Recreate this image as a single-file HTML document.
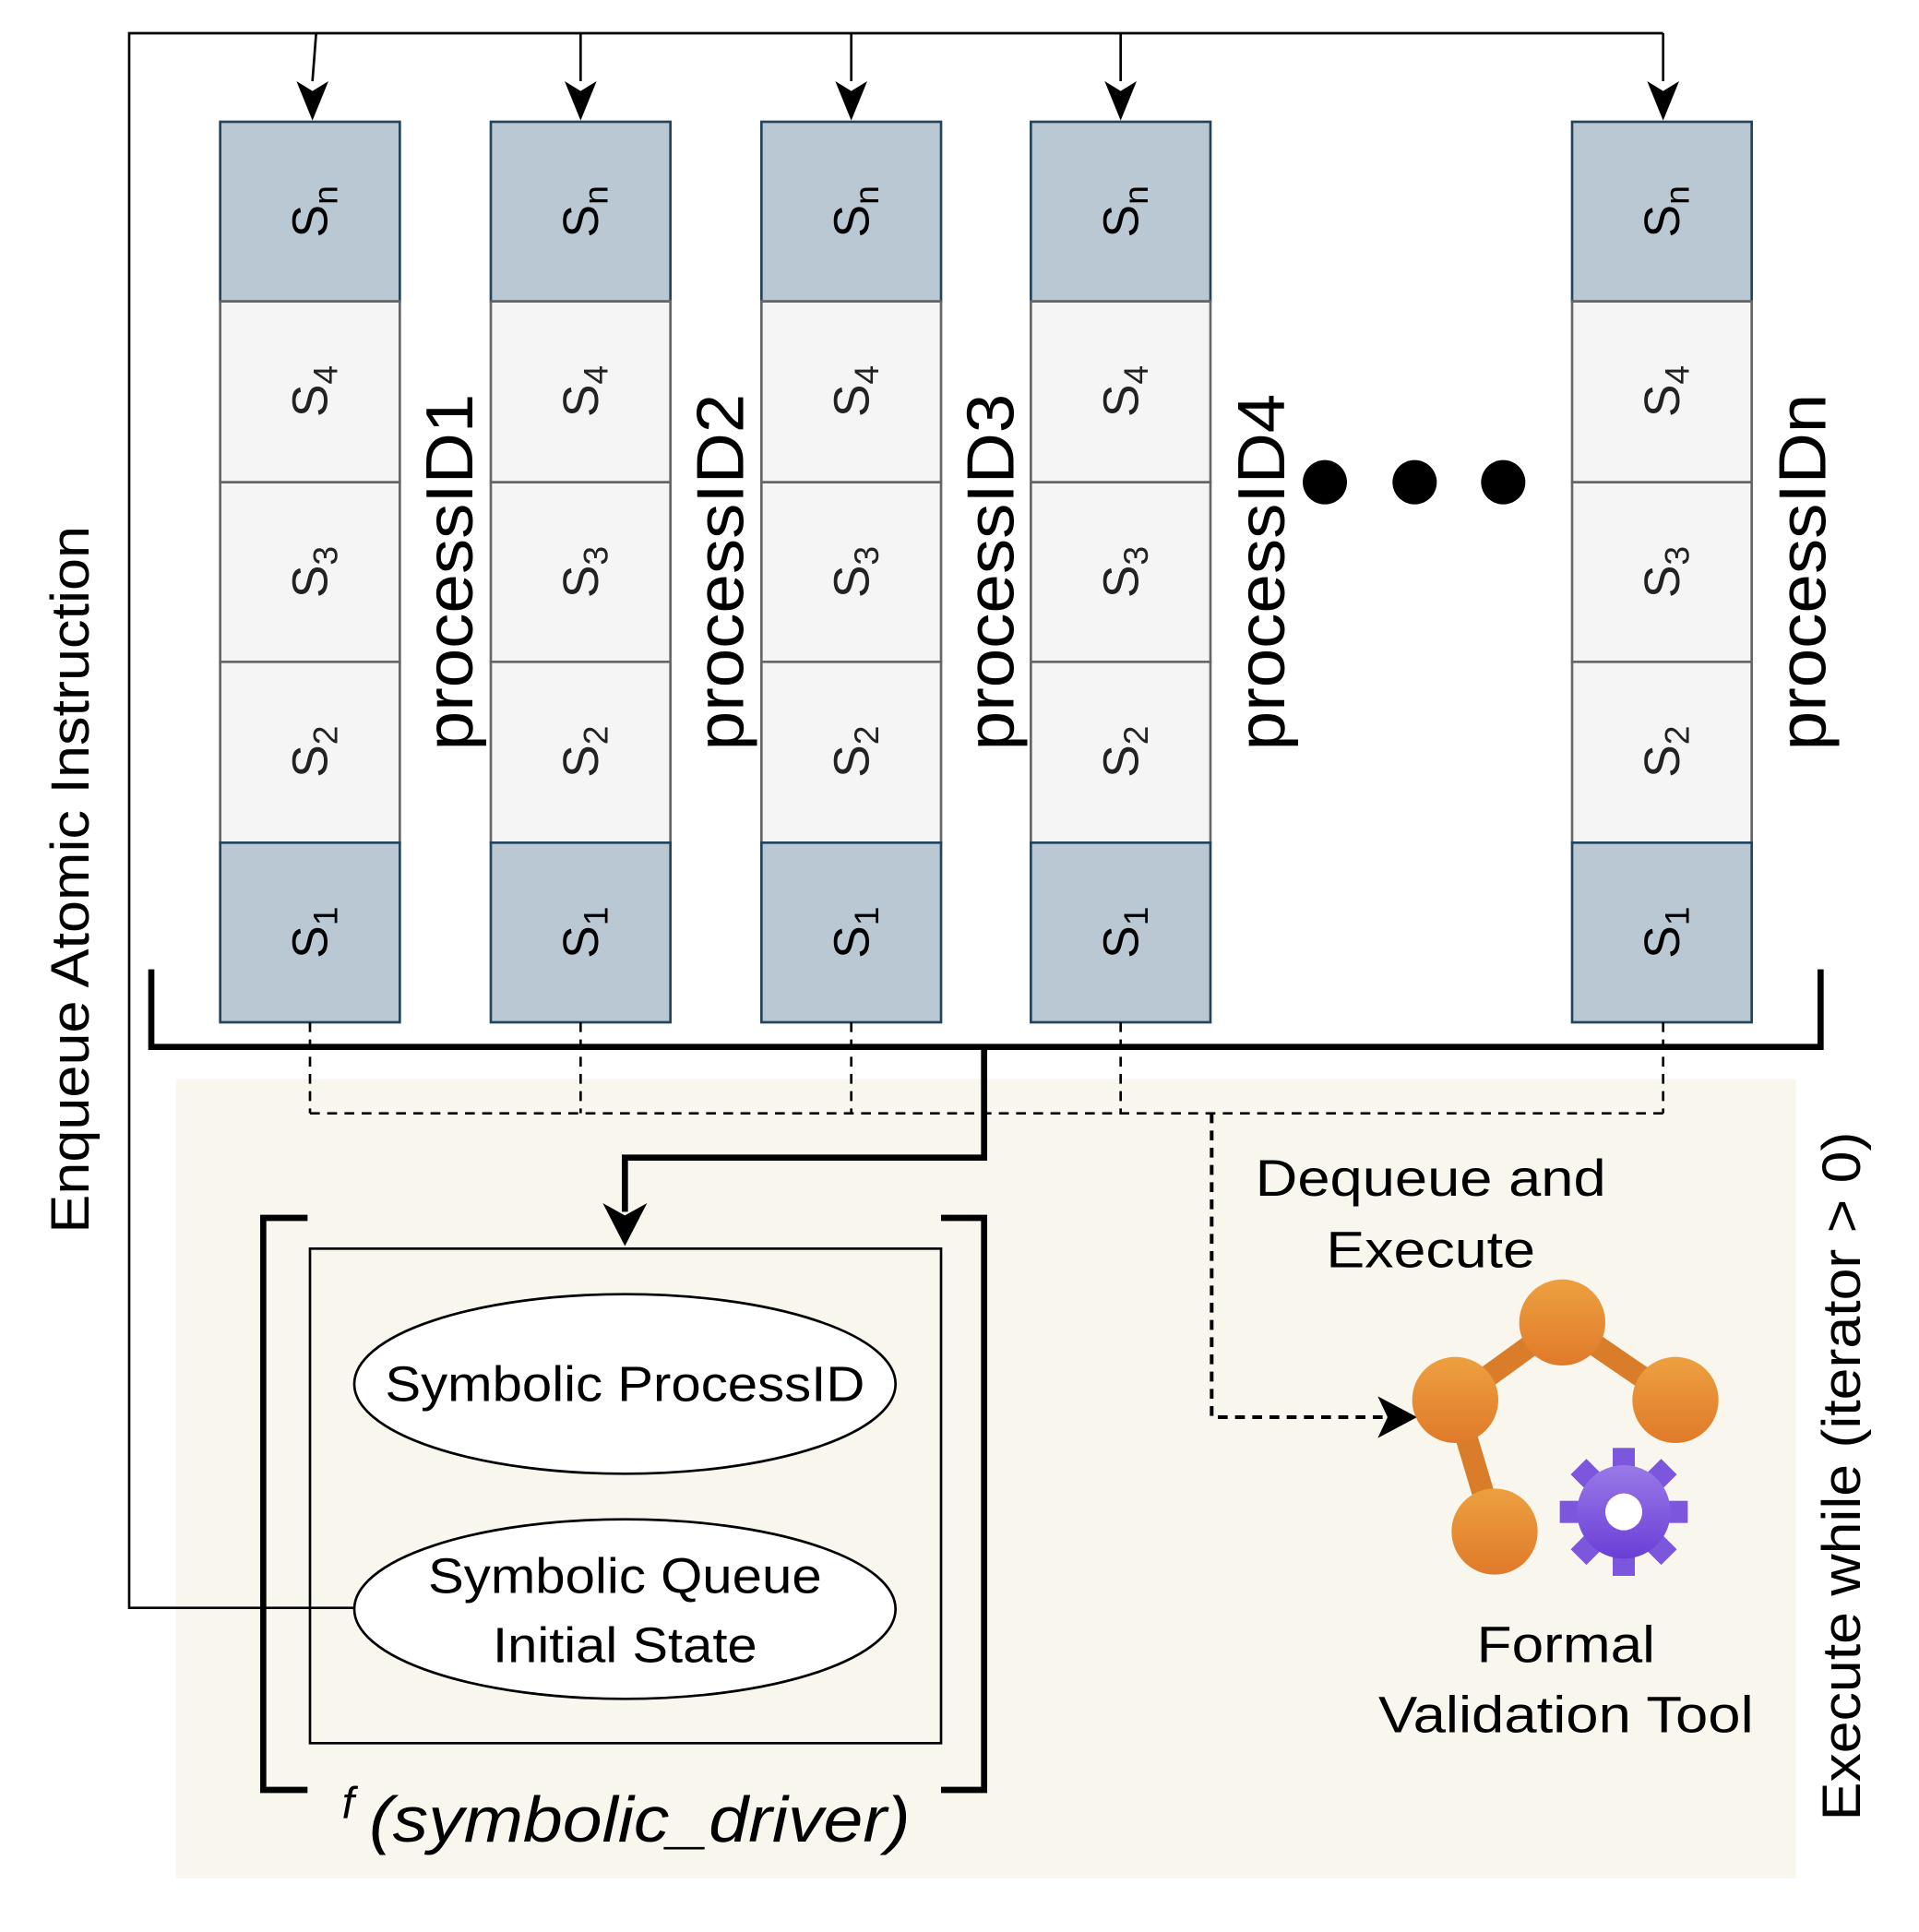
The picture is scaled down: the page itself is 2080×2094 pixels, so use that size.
<!DOCTYPE html>
<html><head><meta charset="utf-8"><style>html,body{margin:0;padding:0;background:#fff}svg{display:block}</style></head>
<body>
<svg width="2080" height="2094" viewBox="0 0 1560 1570.5" xmlns="http://www.w3.org/2000/svg" font-family="Liberation Sans, Arial, sans-serif">
<defs>
<linearGradient id="og" x1="0" y1="0" x2="0" y2="1"><stop offset="0" stop-color="#eda040"/><stop offset="1" stop-color="#e07a2a"/></linearGradient>
<linearGradient id="pg" x1="0" y1="0" x2="0" y2="1"><stop offset="0" stop-color="#9a7ae8"/><stop offset="1" stop-color="#6a3ed6"/></linearGradient>
</defs>
<rect x="143" y="877" width="1317" height="650" fill="#f9f7ed"/>
<path d="M289,1307 H105 V27 H1352" fill="none" stroke="#000" stroke-width="2"/>
<g stroke="#000" stroke-width="2" fill="none">
<line x1="257" y1="27" x2="254" y2="66"/><line x1="472" y1="27" x2="472" y2="66"/><line x1="692" y1="27" x2="692" y2="66"/><line x1="911" y1="27" x2="911" y2="66"/><line x1="1352" y1="27" x2="1352" y2="66"/>
</g>
<g fill="#000">
<path d="M241,66 L254,98 L267,66 L254,74 Z"/><path d="M459,66 L472,98 L485,66 L472,74 Z"/><path d="M679,66 L692,98 L705,66 L692,74 Z"/><path d="M898,66 L911,98 L924,66 L911,74 Z"/><path d="M1339,66 L1352,98 L1365,66 L1352,74 Z"/>
</g>
<g id="cols" stroke-width="2">
<rect x="179" y="99" width="146" height="146" fill="#bac8d3" stroke="#23445d"/>
<rect x="179" y="245" width="146" height="147" fill="#f5f5f5" stroke="#666"/>
<rect x="179" y="392" width="146" height="146" fill="#f5f5f5" stroke="#666"/>
<rect x="179" y="538" width="146" height="147" fill="#f5f5f5" stroke="#666"/>
<rect x="179" y="685" width="146" height="146" fill="#bac8d3" stroke="#23445d"/>
</g>
<use href="#cols" x="220"/><use href="#cols" x="440"/><use href="#cols" x="659"/><use href="#cols" x="1099"/>
<g id="lbl" font-size="40" fill="#000" text-anchor="middle" font-family="Liberation Sans, Arial, sans-serif">
<text transform="translate(266,172) rotate(-90)">S<tspan font-size="28" dy="8">n</tspan></text>
<text transform="translate(266,318) rotate(-90)" fill="#222">S<tspan font-size="28" dy="8">4</tspan></text>
<text transform="translate(266,465) rotate(-90)" fill="#222">S<tspan font-size="28" dy="8">3</tspan></text>
<text transform="translate(266,611) rotate(-90)" fill="#222">S<tspan font-size="28" dy="8">2</tspan></text>
<text transform="translate(266,758) rotate(-90)">S<tspan font-size="28" dy="8">1</tspan></text>
</g>
<use href="#lbl" x="220"/><use href="#lbl" x="440"/><use href="#lbl" x="659"/><use href="#lbl" x="1099"/>
<g font-size="54" fill="#000" text-anchor="middle">
<text transform="translate(384,465) rotate(-90)" textLength="290" lengthAdjust="spacingAndGlyphs">processID1</text>
<text transform="translate(604,465) rotate(-90)" textLength="290" lengthAdjust="spacingAndGlyphs">processID2</text>
<text transform="translate(824,465) rotate(-90)" textLength="290" lengthAdjust="spacingAndGlyphs">processID3</text>
<text transform="translate(1044,465) rotate(-90)" textLength="290" lengthAdjust="spacingAndGlyphs">processID4</text>
<text transform="translate(1484,465) rotate(-90)" textLength="290" lengthAdjust="spacingAndGlyphs">processIDn</text>
</g>
<circle cx="1077" cy="392" r="18"/><circle cx="1150" cy="392" r="18"/><circle cx="1222" cy="392" r="18"/>
<path d="M123,788 V851 H1480 V788" fill="none" stroke="#000" stroke-width="5"/>
<g stroke="#000" stroke-width="2" stroke-dasharray="8,6" fill="none">
<line x1="252" y1="831" x2="252" y2="905"/><line x1="472" y1="831" x2="472" y2="905"/><line x1="692" y1="831" x2="692" y2="905"/><line x1="911" y1="831" x2="911" y2="905"/><line x1="1352" y1="831" x2="1352" y2="905"/>
<path d="M252,905 H1352"/>
<path d="M985,905 V1152 H1125" stroke-width="3"/>
</g>
<path d="M1120,1135 L1152,1152 L1120,1169 L1128,1152 Z"/>
<path d="M800,851 V941 H508 V985" fill="none" stroke="#000" stroke-width="5"/>
<path d="M490,978 L508,1013 L526,978 L508,988 Z"/>
<path d="M250,990 H214 V1455 H250" fill="none" stroke="#000" stroke-width="5"/>
<path d="M765,990 H800 V1455 H765" fill="none" stroke="#000" stroke-width="5"/>
<rect x="252" y="1015" width="513" height="402" fill="none" stroke="#000" stroke-width="2"/>
<ellipse cx="508" cy="1125" rx="220" ry="73" fill="#fff" stroke="#000" stroke-width="2"/>
<ellipse cx="508" cy="1308" rx="220" ry="73" fill="#fff" stroke="#000" stroke-width="2"/>
<g font-size="40" text-anchor="middle" fill="#000">
<text x="508" y="1139" textLength="390" lengthAdjust="spacingAndGlyphs">Symbolic ProcessID</text>
<text x="508" y="1295" textLength="320" lengthAdjust="spacingAndGlyphs">Symbolic Queue</text>
<text x="508" y="1351" textLength="215" lengthAdjust="spacingAndGlyphs">Initial State</text>
<text x="1163" y="972" font-size="42" textLength="285" lengthAdjust="spacingAndGlyphs">Dequeue and</text>
<text x="1163" y="1030" font-size="42" textLength="170" lengthAdjust="spacingAndGlyphs">Execute</text>
<text x="1273" y="1351" font-size="42" textLength="145" lengthAdjust="spacingAndGlyphs">Formal</text>
<text x="1273" y="1408" font-size="42" textLength="305" lengthAdjust="spacingAndGlyphs">Validation Tool</text>
</g>
<text x="278" y="1478" font-size="36" font-style="italic">f</text>
<text x="300" y="1497" font-size="52" font-style="italic" textLength="440" lengthAdjust="spacingAndGlyphs">(symbolic_driver)</text>
<g font-size="44" text-anchor="middle" fill="#000">
<text transform="translate(72,715) rotate(-90)" textLength="575" lengthAdjust="spacingAndGlyphs">Enqueue Atomic Instruction</text>
<text transform="translate(1512,1200) rotate(-90)" textLength="560" lengthAdjust="spacingAndGlyphs">Execute while (iterator &gt; 0)</text>
</g>
<g stroke="#d97d2a" stroke-width="18" fill="none">
<line x1="1183" y1="1138" x2="1270" y2="1075"/><line x1="1270" y1="1075" x2="1362" y2="1138"/><line x1="1183" y1="1138" x2="1215" y2="1245"/>
</g>
<g fill="url(#og)">
<circle cx="1270" cy="1075" r="35"/><circle cx="1183" cy="1138" r="35"/><circle cx="1362" cy="1138" r="35"/><circle cx="1215" cy="1245" r="35"/>
</g>
<g transform="translate(1320,1229)">
<g fill="#7c56dd">
<rect x="-9" y="-52" width="18" height="22"/><rect x="-9" y="-52" width="18" height="22" transform="rotate(45)"/><rect x="-9" y="-52" width="18" height="22" transform="rotate(90)"/><rect x="-9" y="-52" width="18" height="22" transform="rotate(135)"/><rect x="-9" y="-52" width="18" height="22" transform="rotate(180)"/><rect x="-9" y="-52" width="18" height="22" transform="rotate(225)"/><rect x="-9" y="-52" width="18" height="22" transform="rotate(270)"/><rect x="-9" y="-52" width="18" height="22" transform="rotate(315)"/>
</g>
<circle r="38" fill="url(#pg)"/>
<circle r="15" fill="#fff"/>
</g>
</svg>
</body></html>
